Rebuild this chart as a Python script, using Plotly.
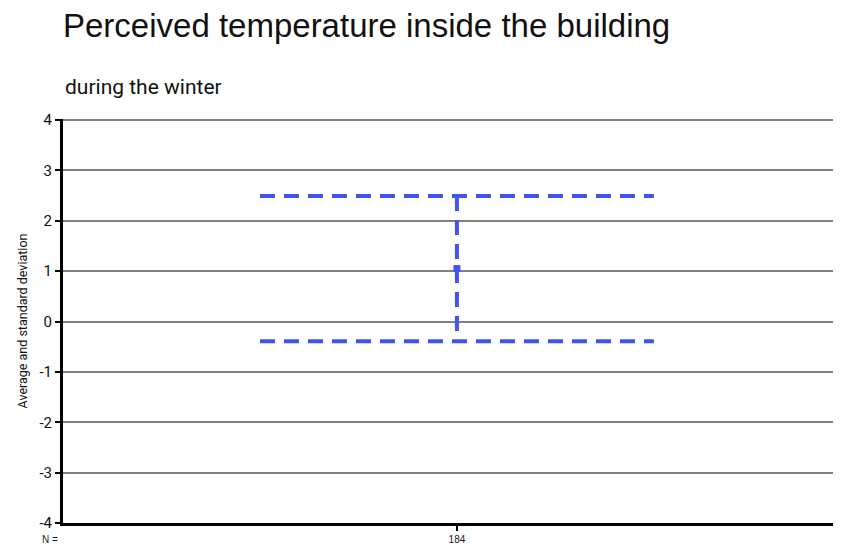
import plotly.graph_objects as go

# dados
grupos = [0]
rotulos_n = ['184']
media = [1.05]
desvio = [1.44]
y_ticks = [-4, -3, -2, -1, 0, 1, 2, 3, 4]
y_rotulos = ['-4', '-3', '-2', '-1', '0', '1', '2', '3', '4']

# a pagina tem 8px de margem no body
W, H = 833, 537
esq, topo, base = 55, 111, 19
larg_plot = W - esq
alt_plot = H - topo - base
azul = '#4353F0'

superior = [m + d for m, d in zip(media, desvio)]
inferior = [m - d for m, d in zip(media, desvio)]

fig = go.Figure()

for x, m, s, i in zip(grupos, media, superior, inferior):
    # linha vertical do desvio
    fig.add_trace(go.Scatter(x=[x, x], y=[s, i], mode='lines',
                             line=dict(color=azul, width=4, dash='15px,9px'),
                             showlegend=False, hoverinfo='skip'))
    # barras horizontais superior e inferior
    for v in (s, i):
        fig.add_trace(go.Scatter(x=[x - 0.5, x + 0.5], y=[v, v], mode='lines',
                                 line=dict(color=azul, width=4, dash='15px,9px'),
                                 showlegend=False, hoverinfo='skip'))
    # media
    fig.add_trace(go.Scatter(x=[x], y=[m], mode='markers',
                             marker=dict(symbol='square', size=7, color=azul),
                             showlegend=False, hoverinfo='skip'))

fig.update_layout(
    width=W, height=H,
    paper_bgcolor='white', plot_bgcolor='white',
    margin=dict(l=esq, r=0, t=topo, b=base),
    title=dict(text='Perceived temperature inside the building',
               font=dict(family='Liberation Sans', size=33, color='#111111'),
               x=esq / W, xanchor='left', y=1 - 17 / H, yanchor='middle',
               xref='container', yref='container'),
    annotations=[
        dict(text='during the winter', x=0, y=(H - base - 79) / alt_plot,
             xref='paper', yref='paper', xanchor='left', yanchor='middle',
             showarrow=False,
             font=dict(family='Roboto', size=21, color='#111111')),
        dict(text='N =', x=(32 - esq) / larg_plot, y=-17 / alt_plot,
             xref='paper', yref='paper',
             xanchor='left', yanchor='middle', showarrow=False,
             font=dict(family='Liberation Sans', size=10, color='#222222')),
    ],
    xaxis=dict(range=[-1, 0.975], tickvals=grupos, ticktext=rotulos_n,
               ticks='outside', ticklen=5, tickwidth=2, tickcolor='black',
               showgrid=False, zeroline=False, showline=True,
               linecolor='black', linewidth=3,
               tickfont=dict(family='Liberation Sans', size=10, color='#222222')),
    yaxis=dict(range=[-4, 4.02], tickvals=y_ticks, ticktext=y_rotulos,
               ticks='outside', ticklen=5,
               tickwidth=2, tickcolor='black',
               showgrid=True, gridcolor='#808080', gridwidth=2,
               zeroline=False, showline=True, linecolor='black', linewidth=3,
               title=dict(text='Average and standard deviation', standoff=10,
                          font=dict(family='Roboto', size=12.5, color='#111111')),
               tickfont=dict(family='Roboto', size=15, color='#111111')),
)

fig.write_html('out.html')
